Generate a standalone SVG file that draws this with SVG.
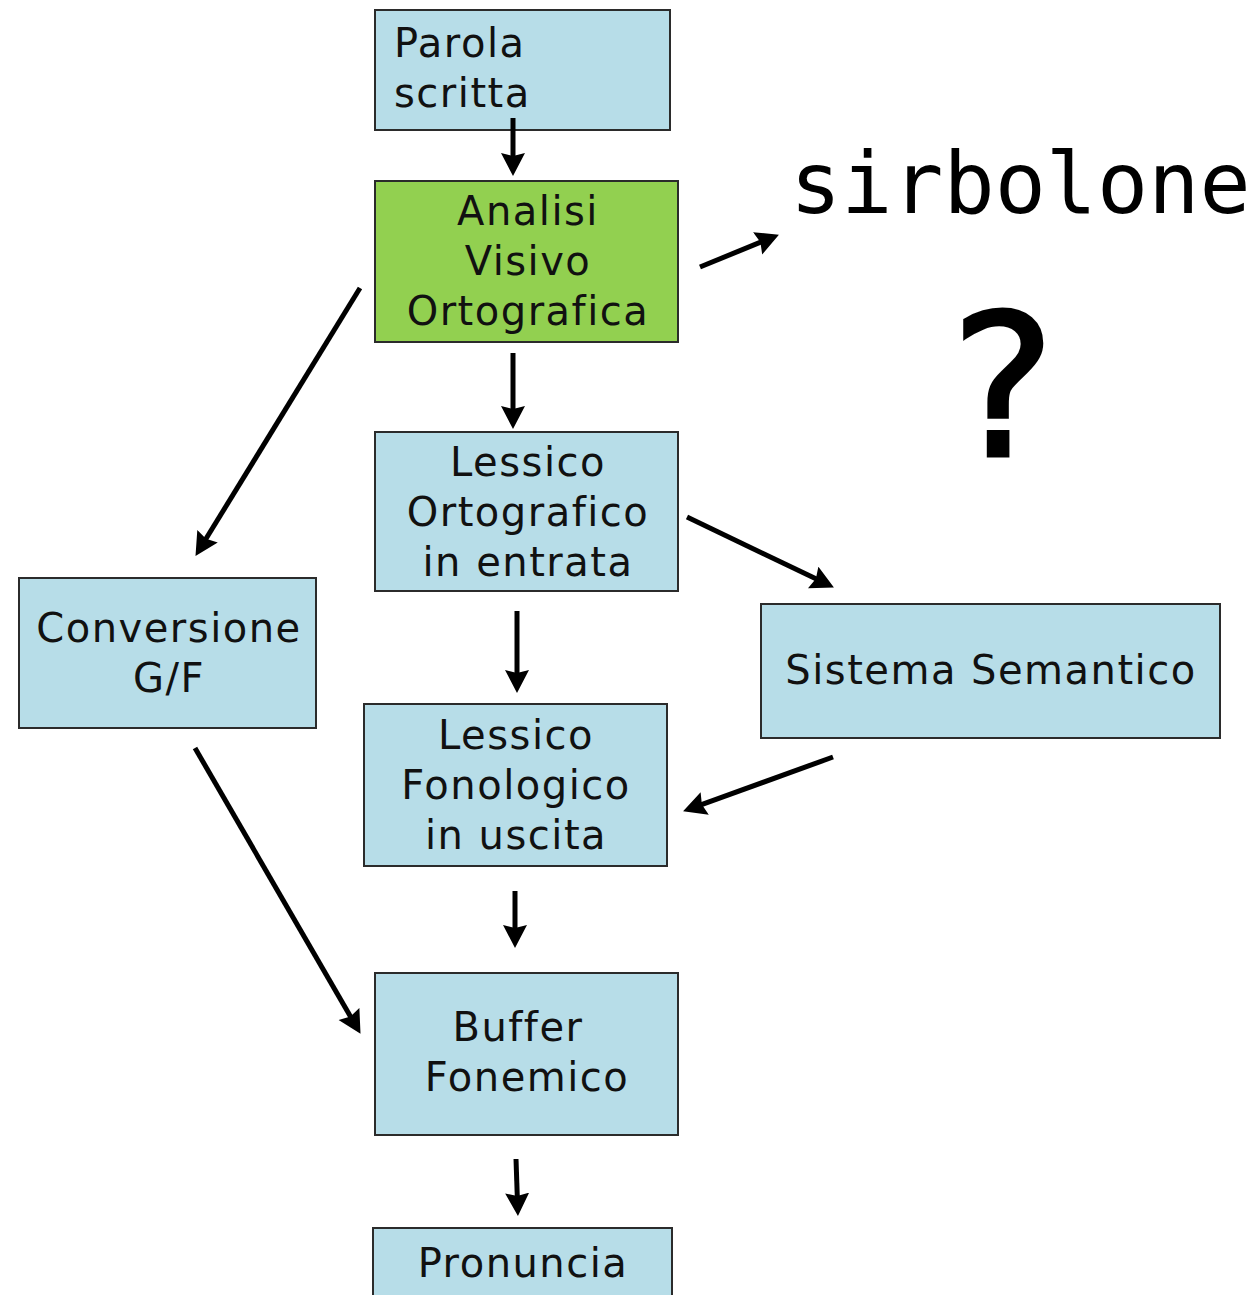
<svg xmlns="http://www.w3.org/2000/svg" width="1256" height="1295" viewBox="0 0 1256 1295">
  <style>
    .box { fill: #b7dde8; stroke: #2b2b2b; stroke-width: 2; }
    .green { fill: #92d050; }
    .lbl { font-family: "DejaVu Sans", "Liberation Sans", sans-serif; font-size: 40px; fill: #111; letter-spacing: 1.5px; }
    .mid { text-anchor: middle; }
    .edge { stroke: #000; stroke-width: 5; fill: none; }
  </style>
  <defs>
    <marker id="head" markerUnits="userSpaceOnUse" markerWidth="26" markerHeight="26" refX="10" refY="12" orient="auto">
      <path d="M0,0 L23,12 L0,24 L3,12 z" fill="#000"/>
    </marker>
  </defs>
  <rect width="1256" height="1295" fill="#fff"/>

  <g id="parola-scritta">
    <rect class="box" x="375" y="10" width="295" height="120"/>
    <text class="lbl" x="394" y="57">Parola</text>
    <text class="lbl" x="394" y="107">scritta</text>
  </g>

  <g id="analisi-visivo">
    <rect class="box green" x="375" y="181" width="303" height="161"/>
    <text class="lbl mid" x="528" y="225">Analisi</text>
    <text class="lbl mid" x="528" y="275">Visivo</text>
    <text class="lbl mid" x="528" y="325">Ortografica</text>
  </g>

  <g id="sirbolone">
    <text x="790" y="213" font-family="'DejaVu Sans Mono', 'Liberation Mono', monospace" font-size="85" fill="#000">sirbolone</text>
  </g>

  <g id="domanda">
    <text x="1003" y="456" font-family="'DejaVu Sans', 'Liberation Sans', sans-serif" font-size="198" text-anchor="middle" fill="#000" stroke="#000" stroke-width="3">?</text>
  </g>

  <g id="lessico-ortografico">
    <rect class="box" x="375" y="432" width="303" height="159"/>
    <text class="lbl mid" x="528" y="476">Lessico</text>
    <text class="lbl mid" x="528" y="526">Ortografico</text>
    <text class="lbl mid" x="528" y="576">in entrata</text>
  </g>

  <g id="sistema-semantico">
    <rect class="box" x="761" y="604" width="459" height="134"/>
    <text class="lbl mid" x="991" y="684">Sistema Semantico</text>
  </g>

  <g id="conversione-gf">
    <rect class="box" x="19" y="578" width="297" height="150"/>
    <text class="lbl mid" x="169" y="642">Conversione</text>
    <text class="lbl mid" x="169" y="692">G/F</text>
  </g>

  <g id="lessico-fonologico">
    <rect class="box" x="364" y="704" width="303" height="162"/>
    <text class="lbl mid" x="516" y="749">Lessico</text>
    <text class="lbl mid" x="516" y="799">Fonologico</text>
    <text class="lbl mid" x="516" y="849">in uscita</text>
  </g>

  <g id="buffer-fonemico">
    <rect class="box" x="375" y="973" width="303" height="162"/>
    <text class="lbl mid" x="518" y="1041">Buffer</text>
    <text class="lbl mid" x="527" y="1091">Fonemico</text>
  </g>

  <g id="pronuncia">
    <rect class="box" x="373" y="1228" width="299" height="80"/>
    <text class="lbl mid" x="523" y="1277">Pronuncia</text>
  </g>

  <g id="connectors">
    <line class="edge" x1="513" y1="118" x2="513" y2="163" marker-end="url(#head)"/>
    <line class="edge" x1="700" y1="267" x2="766.9" y2="239.6" marker-end="url(#head)"/>
    <line class="edge" x1="360" y1="288" x2="202.3" y2="544.8" marker-end="url(#head)"/>
    <line class="edge" x1="513" y1="353" x2="513" y2="416" marker-end="url(#head)"/>
    <line class="edge" x1="687" y1="517" x2="822.2" y2="581.8" marker-end="url(#head)"/>
    <line class="edge" x1="517" y1="611" x2="517" y2="680" marker-end="url(#head)"/>
    <line class="edge" x1="833" y1="757" x2="695.3" y2="806.9" marker-end="url(#head)"/>
    <line class="edge" x1="195" y1="748" x2="354" y2="1022.6" marker-end="url(#head)"/>
    <line class="edge" x1="515" y1="891" x2="515" y2="935" marker-end="url(#head)"/>
    <line class="edge" x1="516" y1="1159" x2="517.5" y2="1203" marker-end="url(#head)"/>
  </g>
</svg>
